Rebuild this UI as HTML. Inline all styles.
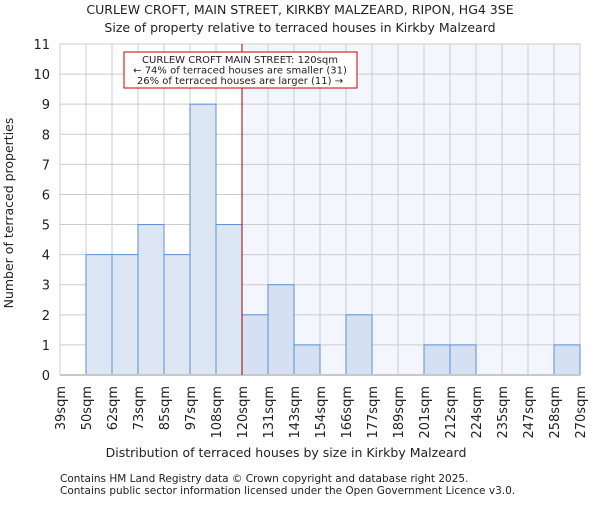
<!DOCTYPE html>
<html><head><meta charset="utf-8"><style>
body{margin:0;background:#fff;width:600px;height:500px;overflow:hidden}
text{font-family:"DejaVu Sans","Liberation Sans",sans-serif;fill:#222}
</style></head><body>
<svg id="chart" width="600" height="500">
<text x="300" y="14" font-size="12.5" text-anchor="middle">CURLEW CROFT, MAIN STREET, KIRKBY MALZEARD, RIPON, HG4 3SE</text>
<text x="300" y="32" font-size="12.5" text-anchor="middle">Size of property relative to terraced houses in Kirkby Malzeard</text>
<g id="plot"></g>
<text x="286" y="457" font-size="12.5" text-anchor="middle">Distribution of terraced houses by size in Kirkby Malzeard</text>
<text transform="translate(13,213) rotate(-90)" font-size="12.5" text-anchor="middle">Number of terraced properties</text>
<text x="60" y="482" font-size="10.5">Contains HM Land Registry data © Crown copyright and database right 2025.</text>
<text x="60" y="494" font-size="10.5">Contains public sector information licensed under the Open Government Licence v3.0.</text>
</svg>
<script>
const binLabels=["39sqm","50sqm","62sqm","73sqm","85sqm","97sqm","108sqm","120sqm","131sqm","143sqm","154sqm","166sqm","177sqm","189sqm","201sqm","212sqm","224sqm","235sqm","247sqm","258sqm","270sqm"];
const counts=[0,4,4,5,4,9,5,2,3,1,0,2,0,0,1,1,0,0,0,1];
const yTicks=[0,1,2,3,4,5,6,7,8,9,10,11];
const markerIndex=7;
const NS="http://www.w3.org/2000/svg";
const g=document.getElementById('plot');
const L=60,R=580,T=44,B=375,yMax=11;
const bw=(R-L)/counts.length;
const xs=i=>L+i*bw;
const ys=v=>B-(v/yMax)*(B-T);
function mk(t,a,p){const e=document.createElementNS(NS,t);for(const k in a)e.setAttribute(k,a[k]);(p||g).appendChild(e);return e;}
const sh=mk('rect',{x:xs(markerIndex),y:T,width:R-xs(markerIndex),height:B-T,fill:'#f3f6fd'});


yTicks.forEach(v=>{
 const l=mk('line',{x1:L,x2:R,y1:ys(v),y2:ys(v),stroke:'#cccccc','stroke-width':1});
 
 
 const t=mk('text',{x:L-10,y:ys(v)+5,'font-size':13,'text-anchor':'end'});
 t.textContent=v;
 
 
});
binLabels.forEach((s,i)=>{
 const l=mk('line',{x1:xs(i),x2:xs(i),y1:T,y2:B,stroke:'#cccccc','stroke-width':1});
 
 
 const t=mk('text',{transform:`translate(${xs(i)+5},${B+11}) rotate(-90)`,'font-size':13,'text-anchor':'end'});
 t.textContent=s;
 
 
});
counts.forEach((c,i)=>{
 if(c<=0)return;
 const r=mk('rect',{x:xs(i),y:ys(c),width:bw,height:B-ys(c),fill:i>=markerIndex?'#d5e1f3':'#dde7f4',stroke:'#5b8fd6','stroke-width':1});
 
 
});
const ax=mk('line',{x1:L,x2:R,y1:B,y2:B,stroke:'#c8c8c8','stroke-width':2});


const ml=mk('line',{x1:xs(markerIndex),x2:xs(markerIndex),y1:T,y2:B,stroke:'#a00000','stroke-width':1});


const box=mk('rect',{x:124,y:52,width:233,height:36,fill:'#fff',stroke:'#cc0000','stroke-width':1});


["CURLEW CROFT MAIN STREET: 120sqm","← 74% of terraced houses are smaller (31)","26% of terraced houses are larger (11) →"].forEach((s,k)=>{
 const t=mk('text',{x:240,y:63+k*10.5,'font-size':10,'text-anchor':'middle'});
 t.textContent=s;
 
 
});
</script>
</body></html>
